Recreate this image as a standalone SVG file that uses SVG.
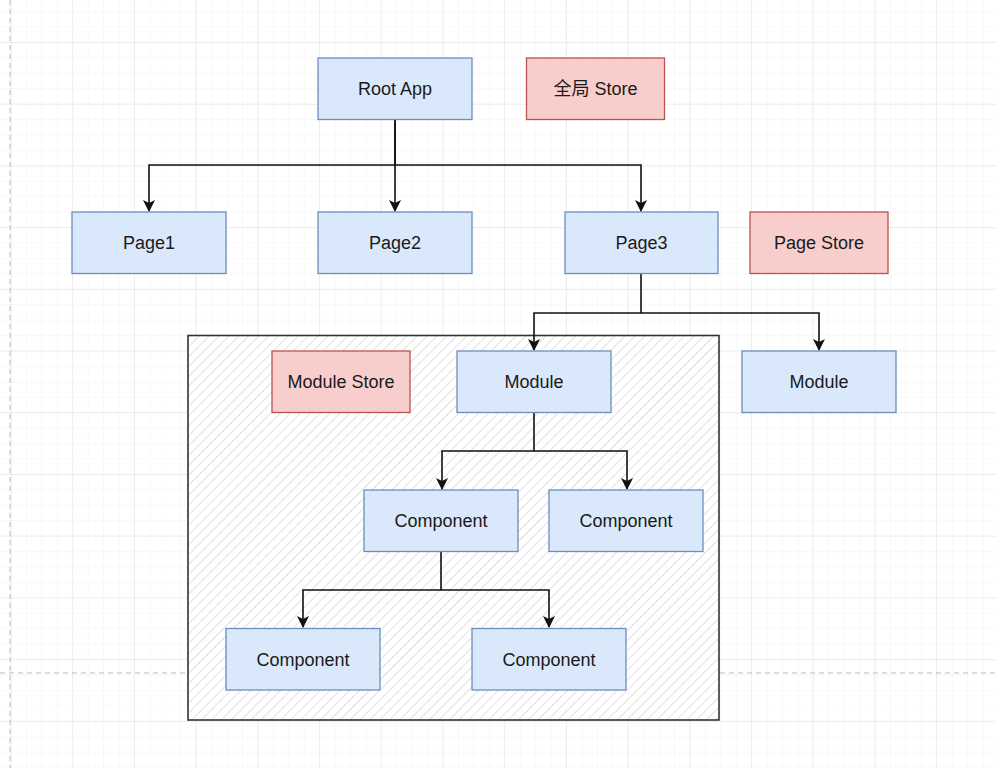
<svg xmlns="http://www.w3.org/2000/svg" width="996" height="768" viewBox="0 0 996 768">
<style>
.blue{fill:#dae8fc;stroke:#6c8ebf;stroke-width:1.3}
.red{fill:#f8cecc;stroke:#b85450;stroke-width:1.3}
.lbl{font-family:"Liberation Sans",Arial,sans-serif;font-size:18px;fill:#1a1a1a;text-anchor:middle;dominant-baseline:central}
.edge{fill:none;stroke:#111;stroke-width:1.6}
</style>
<defs>
<pattern id="minor" x="10.5" y="-19.7" width="15.43" height="15.43" patternUnits="userSpaceOnUse">
<path d="M0 0H15.43M0 0V15.43" fill="none" stroke="#f1f1f1" stroke-width="1"/>
</pattern>
<pattern id="major" x="10.5" y="-19.7" width="61.7" height="61.7" patternUnits="userSpaceOnUse">
<path d="M0 0H61.7M0 0V61.7" fill="none" stroke="#e2e2e2" stroke-width="1"/>
</pattern>
<pattern id="hatch" width="7" height="7" patternUnits="userSpaceOnUse" patternTransform="rotate(45)">
<line x1="0" y1="0" x2="0" y2="7" stroke="#d0d0d0" stroke-width="1.3"/>
</pattern>
<marker id="arr" viewBox="0 0 12 12" refX="11" refY="6" markerWidth="12" markerHeight="12" markerUnits="userSpaceOnUse" orient="auto">
<path d="M0 0L12 6L0 12L3 6Z" fill="#111"/>
</marker>
</defs>
<rect width="996" height="768" fill="#fff"/>
<rect width="996" height="768" fill="url(#minor)"/>
<rect width="996" height="768" fill="url(#major)"/>
<line x1="10" y1="0" x2="10" y2="768" stroke="#bbb" stroke-width="1" stroke-dasharray="5,4"/>
<line x1="0" y1="673" x2="996" y2="673" stroke="#bbb" stroke-width="1" stroke-dasharray="5,4"/>

<g id="container">
<rect x="188" y="335.5" width="531" height="384.5" fill="#fff"/>
<rect x="188" y="335.5" width="531" height="384.5" fill="url(#hatch)" stroke="#333" stroke-width="1.6"/>
</g>

<g id="connectors">
<path class="edge" d="M395 119V165H149V211" marker-end="url(#arr)"/>
<path class="edge" d="M395 119V211" marker-end="url(#arr)"/>
<path class="edge" d="M395 165H641V211" marker-end="url(#arr)"/>
<path class="edge" d="M641 273V313H534V350" marker-end="url(#arr)"/>
<path class="edge" d="M641 313H819V350" marker-end="url(#arr)"/>
<path class="edge" d="M534 412V451H442V489" marker-end="url(#arr)"/>
<path class="edge" d="M534 451H627V489" marker-end="url(#arr)"/>
<path class="edge" d="M441 551V590H303V627" marker-end="url(#arr)"/>
<path class="edge" d="M441 590H549V627" marker-end="url(#arr)"/>
</g>

<g id="root-app"><rect class="blue" x="318" y="58" width="154" height="61.5"/><text class="lbl" x="395" y="89">Root App</text></g>
<g id="global-store"><rect class="red" x="526.5" y="58" width="138" height="61.5"/><text class="lbl" x="595.5" y="89" style="font-family:'Liberation Sans','Noto Sans CJK SC',sans-serif">全局 Store</text></g>
<g id="page1"><rect class="blue" x="72" y="212" width="154" height="61.5"/><text class="lbl" x="149" y="243">Page1</text></g>
<g id="page2"><rect class="blue" x="318" y="212" width="154" height="61.5"/><text class="lbl" x="395" y="243">Page2</text></g>
<g id="page3"><rect class="blue" x="565" y="212" width="153" height="61.5"/><text class="lbl" x="641.5" y="243">Page3</text></g>
<g id="page-store"><rect class="red" x="750" y="212" width="138" height="61.5"/><text class="lbl" x="819" y="243">Page Store</text></g>
<g id="module-store"><rect class="red" x="272" y="351" width="138" height="61.5"/><text class="lbl" x="341" y="382">Module Store</text></g>
<g id="module1"><rect class="blue" x="457" y="351" width="154" height="61.5"/><text class="lbl" x="534" y="382">Module</text></g>
<g id="module2"><rect class="blue" x="742" y="351" width="154" height="61.5"/><text class="lbl" x="819" y="382">Module</text></g>
<g id="component1"><rect class="blue" x="364" y="490" width="154" height="61.5"/><text class="lbl" x="441" y="521">Component</text></g>
<g id="component2"><rect class="blue" x="549" y="490" width="154" height="61.5"/><text class="lbl" x="626" y="521">Component</text></g>
<g id="component3"><rect class="blue" x="226" y="628.5" width="154" height="61.5"/><text class="lbl" x="303" y="660">Component</text></g>
<g id="component4"><rect class="blue" x="472" y="628.5" width="154" height="61.5"/><text class="lbl" x="549" y="660">Component</text></g>
</svg>
